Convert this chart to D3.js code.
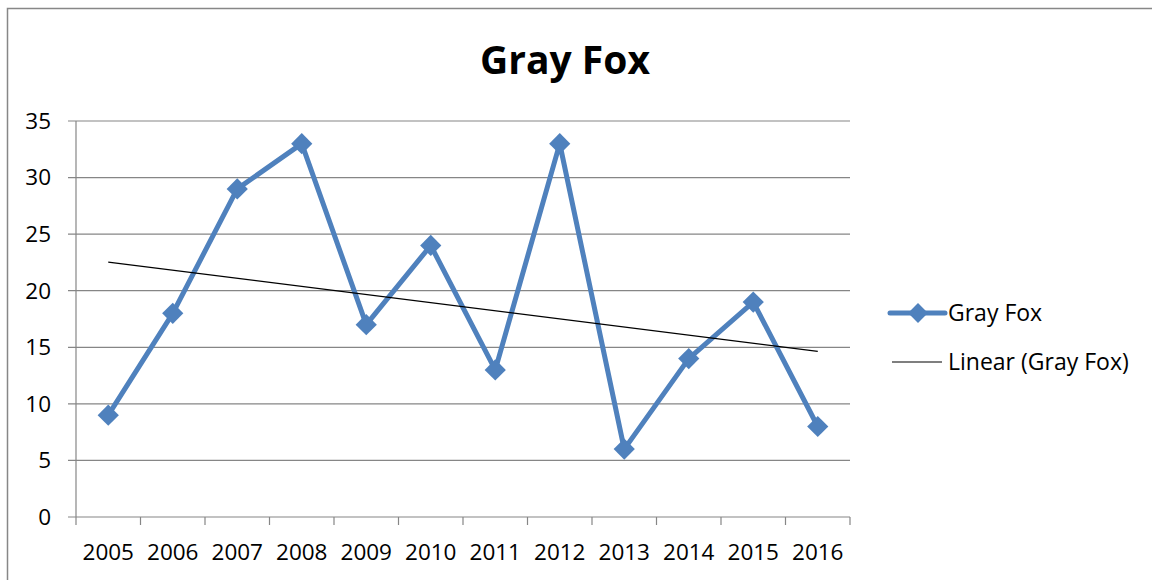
<!DOCTYPE html>
<html><head><meta charset="utf-8">
<script src="https://cdn.jsdelivr.net/npm/d3@7/dist/d3.min.js"></script>
<style>body{margin:0;background:#fff}svg{display:block}text{font-family:"Open Sans",Lato,sans-serif}</style>
</head><body>
<svg id="c" width="1152" height="580"></svg>
<script>
const years = ["2005","2006","2007","2008","2009","2010","2011","2012","2013","2014","2015","2016"];
const values = [9,18,29,33,17,24,13,33,6,14,19,8];
const yTicks = [0,5,10,15,20,25,30,35];
const seriesName = "Gray Fox";
const trendName = "Linear (Gray Fox)";

const svg = d3.select("#c");
svg.append("rect").attr("x",7.5).attr("y",8.5).attr("width",1160).attr("height",590)
  .attr("fill","none").attr("stroke","#878787").attr("stroke-width",1.5);

const L=76,R=850,T=121,B=517;
const x = d3.scaleBand().domain(years).range([L,R]);
const y = d3.scaleLinear().domain([0,35]).range([B,T]);

svg.append("g").selectAll("line").data(yTicks).join("line")
  .attr("x1",L-8).attr("x2",R).attr("y1",d=>y(d)).attr("y2",d=>y(d))
  .attr("stroke","#868686").attr("stroke-width",1.2);
svg.append("line").attr("x1",L).attr("x2",L).attr("y1",T).attr("y2",B)
  .attr("stroke","#868686").attr("stroke-width",1.2);
svg.append("g").selectAll("text").data(yTicks).join("text")
  .attr("x",51).attr("y",d=>y(d)).attr("dy","0.35em").attr("text-anchor","end")
  .attr("font-size",22.5).attr("fill","#000").text(d=>d);
const bounds = years.map(d=>x(d)).concat([R]);
svg.append("g").selectAll("line").data(bounds).join("line")
  .attr("x1",d=>d).attr("x2",d=>d).attr("y1",B).attr("y2",B+8)
  .attr("stroke","#868686").attr("stroke-width",1.2);
svg.append("g").selectAll("text").data(years).join("text")
  .attr("x",d=>x(d)+x.bandwidth()/2).attr("y",560).attr("text-anchor","middle")
  .attr("font-size",22.5).attr("fill","#000").text(d=>d);

const n=values.length, xs=values.map((v,i)=>i+1);
const mx=d3.mean(xs), my=d3.mean(values);
const slope=d3.sum(xs.map((xi,i)=>(xi-mx)*(values[i]-my)))/d3.sum(xs.map(xi=>(xi-mx)**2));
const icpt=my-slope*mx;
const cx = d=>x(d)+x.bandwidth()/2;

const line = d3.line().x((d,i)=>cx(years[i])).y(d=>y(d));
svg.append("path").datum(values).attr("d",line).attr("fill","none")
  .attr("stroke","#4F81BD").attr("stroke-width",5).attr("stroke-linejoin","round");
svg.append("line").attr("x1",cx(years[0])).attr("x2",cx(years[n-1]))
  .attr("y1",y(icpt+slope*1)).attr("y2",y(icpt+slope*n))
  .attr("stroke","#000").attr("stroke-width",1.2);
svg.append("g").selectAll("rect").data(values).join("rect")
  .attr("x",-7.5).attr("y",-7.5).attr("width",15).attr("height",15)
  .attr("transform",(d,i)=>`translate(${cx(years[i])},${y(d)}) rotate(45)`)
  .attr("fill","#4F81BD");

svg.append("text").attr("x",565).attr("y",74).attr("text-anchor","middle")
  .attr("font-size",39).attr("font-weight","bold").attr("fill","#000").text(seriesName);

svg.append("line").attr("x1",890).attr("x2",945).attr("y1",313).attr("y2",313)
  .attr("stroke","#4F81BD").attr("stroke-width",5).attr("stroke-linecap","round");
svg.append("rect").attr("x",-7).attr("y",-7).attr("width",14).attr("height",14)
  .attr("transform","translate(918,313) rotate(45)").attr("fill","#4F81BD");
svg.append("text").attr("x",948).attr("y",313).attr("dy","0.35em").attr("font-size",23).text(seriesName);
svg.append("line").attr("x1",892).attr("x2",942).attr("y1",362).attr("y2",362)
  .attr("stroke","#000").attr("stroke-width",1.2);
svg.append("text").attr("x",948).attr("y",362).attr("dy","0.35em").attr("font-size",23).text(trendName);
</script>
</body></html>
